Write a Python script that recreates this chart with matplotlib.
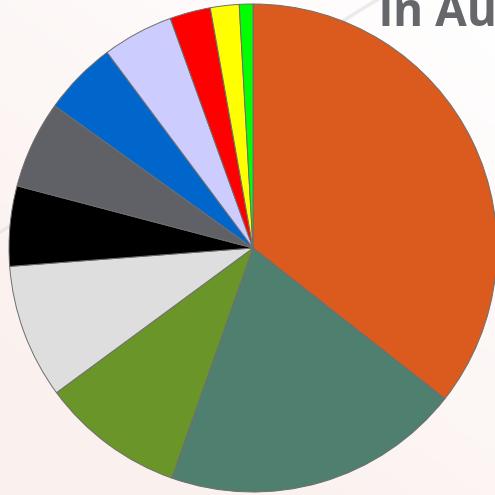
import matplotlib

matplotlib.use("Agg")
import matplotlib.pyplot as plt
import numpy as np

# slice shares in percent, clockwise from 12 o'clock
shares = [35.6, 19.8, 9.5, 8.9, 5.3, 5.8, 4.9, 4.7, 2.7, 1.9, 0.9]
colors = [
    "#DB5B1E", "#4E7F6F", "#6A9529", "#DEDEDE", "#000000", "#606166",
    "#0066CC", "#CCCCFF", "#FF0000", "#FFFF00", "#00FF00",
]
title_text = "in Au"

W = H = 495
fig = plt.figure(figsize=(W / 100, H / 100), dpi=100)
ax = fig.add_axes([0, 0, 1, 1])
ax.set_xlim(0, W)
ax.set_ylim(0, H)
ax.set_aspect("equal")
ax.axis("off")

# soft background: white top-right fading to a warm tint bottom-left
yy, xx = np.mgrid[0:1:100j, 0:1:100j]
t = np.clip((1 - xx) * 0.5 + (1 - yy) * 0.7, 0, 1)
top = np.array([1.0, 1.0, 1.0])
warm = np.array([0.984, 0.945, 0.933])
bg = top[None, None, :] * (1 - t[..., None]) + warm[None, None, :] * t[..., None]
ax.imshow(bg, extent=[0, W, H, 0], origin="upper", zorder=0)

# faint diagonal streak behind the pie
ax.plot([0, 380], [H - 232, H + 2], color="#DADADA", lw=2.5, alpha=0.5, zorder=1)

ax.pie(
    shares,
    colors=colors,
    startangle=90,
    counterclock=False,
    radius=244,
    center=(253, H - 248),
    wedgeprops=dict(edgecolor="#6E6E6E", linewidth=0.7),
    frame=True,
)
ax.set_xlim(0, W)
ax.set_ylim(0, H)
ax.axis("off")

# title runs off the top-right edge in the reference
ax.text(379, H - 26, title_text, fontsize=33, fontweight="bold",
        family=["Open Sans", "DejaVu Sans"], color="#66676B",
        ha="left", va="baseline", zorder=5, clip_on=False)

fig.savefig("out.png", dpi=100)
